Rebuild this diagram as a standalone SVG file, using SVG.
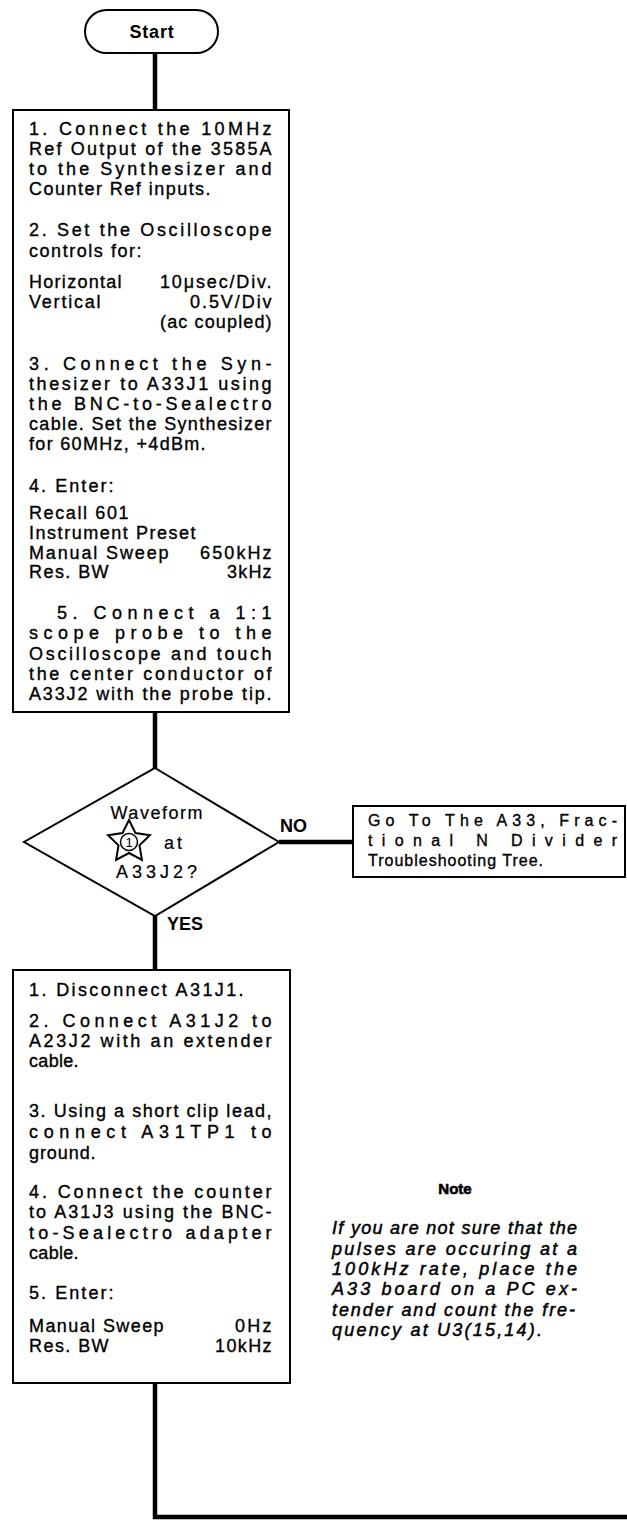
<svg xmlns="http://www.w3.org/2000/svg" width="627" height="1521" viewBox="0 0 627 1521">
<style>
.bg{fill:#fff}
.box{fill:#fff;stroke:#000;stroke-width:2}
.con{fill:none;stroke:#000;stroke-width:4.5;stroke-linecap:butt;stroke-linejoin:miter}
.t{font-family:"Liberation Sans",Arial,sans-serif;font-size:18px;fill:#000;stroke:#000;stroke-width:0.35;letter-spacing:1.4px}
.g{font-family:"Liberation Sans",Arial,sans-serif;font-size:16px;fill:#000;stroke:#000;stroke-width:0.35;letter-spacing:1px}
.d{font-family:"Liberation Sans",Arial,sans-serif;font-size:18px;fill:#000;stroke:#000;stroke-width:0.2;letter-spacing:1px}
.lbl{font-family:"Liberation Sans",Arial,sans-serif;font-size:18px;font-weight:bold;fill:#000}
.n{font-family:"Liberation Sans",Arial,sans-serif;font-size:18px;font-style:italic;fill:#000;stroke:#000;stroke-width:0.5}
.h{font-family:"Liberation Sans",Arial,sans-serif;font-size:15px;font-weight:bold;fill:#000;stroke:#000;stroke-width:0.6;text-anchor:middle}
</style>
<rect class="bg" x="0" y="0" width="627" height="1521"/>

<g id="connectors">
  <path class="con" d="M155 53 V110"/>
  <path class="con" d="M155 712 V768"/>
  <path class="con" d="M279 842 H353"/>
  <path class="con" d="M155 916 V970"/>
  <path class="con" d="M155 1383 V1517 H627"/>
</g>

<g id="start">
  <rect class="box" x="85" y="10" width="133" height="43" rx="21.5" ry="21.5"/>
  <text class="lbl" x="152" y="38" text-anchor="middle" style="letter-spacing:0.8px">Start</text>
</g>

<g id="step1">
  <rect class="box" x="13" y="110" width="276" height="602"/>
  <text class="t" x="29" y="135" textLength="244" lengthAdjust="spacing">1. Connect the 10MHz</text>
  <text class="t" x="29" y="155" textLength="244" lengthAdjust="spacing">Ref Output of the 3585A</text>
  <text class="t" x="29" y="175" textLength="244" lengthAdjust="spacing">to the Synthesizer and</text>
  <text class="t" x="29" y="195" textLength="183" lengthAdjust="spacing">Counter Ref inputs.</text>
  <text class="t" x="29" y="236" textLength="244" lengthAdjust="spacing">2. Set the Oscilloscope</text>
  <text class="t" x="29" y="257" textLength="114" lengthAdjust="spacing">controls for:</text>
  <text class="t" x="29" y="288" textLength="94" lengthAdjust="spacing">Horizontal</text>
  <text class="t" x="160" y="288" textLength="113" lengthAdjust="spacing">10μsec/Div.</text>
  <text class="t" x="29" y="308" textLength="73" lengthAdjust="spacing">Vertical</text>
  <text class="t" x="190" y="308" textLength="83" lengthAdjust="spacing">0.5V/Div</text>
  <text class="t" x="160" y="328" textLength="113" lengthAdjust="spacing">(ac coupled)</text>
  <text class="t" x="29" y="370" textLength="244" lengthAdjust="spacing">3. Connect the Syn-</text>
  <text class="t" x="29" y="390" textLength="244" lengthAdjust="spacing">thesizer to A33J1 using</text>
  <text class="t" x="29" y="410" textLength="244" lengthAdjust="spacing">the BNC-to-Sealectro</text>
  <text class="t" x="29" y="430" textLength="244" lengthAdjust="spacing">cable. Set the Synthesizer</text>
  <text class="t" x="29" y="450" textLength="178" lengthAdjust="spacing">for 60MHz, +4dBm.</text>
  <text class="t" x="29" y="492" textLength="86" lengthAdjust="spacing">4. Enter:</text>
  <text class="t" x="29" y="519" textLength="101" lengthAdjust="spacing">Recall 601</text>
  <text class="t" x="29" y="539" textLength="168" lengthAdjust="spacing">Instrument Preset</text>
  <text class="t" x="29" y="559" textLength="141" lengthAdjust="spacing">Manual Sweep</text>
  <text class="t" x="200" y="559" textLength="73" lengthAdjust="spacing">650kHz</text>
  <text class="t" x="29" y="578" textLength="81" lengthAdjust="spacing">Res. BW</text>
  <text class="t" x="227" y="578" textLength="46" lengthAdjust="spacing">3kHz</text>
  <text class="t" x="57" y="619" textLength="216" lengthAdjust="spacing">5. Connect a 1:1</text>
  <text class="t" x="29" y="639" textLength="244" lengthAdjust="spacing">scope probe to the</text>
  <text class="t" x="29" y="660" textLength="244" lengthAdjust="spacing">Oscilloscope and touch</text>
  <text class="t" x="29" y="680" textLength="244" lengthAdjust="spacing">the center conductor of</text>
  <text class="t" x="29" y="700" textLength="244" lengthAdjust="spacing">A33J2 with the probe tip.</text>
</g>

<g id="decision">
  <polygon class="box" points="155,768 279,842 155,916 24,842"/>
  <text class="d" x="157" y="819" text-anchor="middle" textLength="93" lengthAdjust="spacing">Waveform</text>
  <polygon fill="#fff" stroke="#000" stroke-width="2" points="129,820 135.5,833.1 149.9,835.2 139.5,845.4 141.9,859.8 129,853 116.1,859.8 118.5,845.4 108.1,835.2 122.5,833.1"/>
  <circle cx="129" cy="842" r="8.5" fill="#fff" stroke="#000" stroke-width="1.5"/>
  <text x="129" y="847" text-anchor="middle" font-family="Liberation Sans, Arial, sans-serif" font-size="13" fill="#000">1</text>
  <text class="d" x="164" y="849" textLength="19" lengthAdjust="spacing">at</text>
  <text class="d" x="157" y="878" text-anchor="middle" textLength="82" lengthAdjust="spacing">A33J2?</text>
  <text class="lbl" x="280" y="832">NO</text>
  <text class="lbl" x="167" y="930">YES</text>
</g>

<g id="goto">
  <rect class="box" x="353" y="806" width="272" height="71"/>
  <text class="g" x="368" y="826" textLength="250" lengthAdjust="spacing">Go To The A33, Frac-</text>
  <text class="g" x="368" y="846" textLength="250" lengthAdjust="spacing">tional N Divider</text>
  <text class="g" x="368" y="866">Troubleshooting Tree.</text>
</g>

<g id="step2">
  <rect class="box" x="13" y="970" width="277" height="413"/>
  <text class="t" x="29" y="996" textLength="216" lengthAdjust="spacing">1. Disconnect A31J1.</text>
  <text class="t" x="29" y="1027" textLength="244" lengthAdjust="spacing">2. Connect A31J2 to</text>
  <text class="t" x="29" y="1047" textLength="244" lengthAdjust="spacing">A23J2 with an extender</text>
  <text class="t" x="29" y="1067" textLength="51" lengthAdjust="spacing">cable.</text>
  <text class="t" x="29" y="1117" textLength="244" lengthAdjust="spacing">3. Using a short clip lead,</text>
  <text class="t" x="29" y="1138" textLength="244" lengthAdjust="spacing">connect A31TP1 to</text>
  <text class="t" x="29" y="1159" textLength="68" lengthAdjust="spacing">ground.</text>
  <text class="t" x="29" y="1198" textLength="244" lengthAdjust="spacing">4. Connect the counter</text>
  <text class="t" x="29" y="1218" textLength="244" lengthAdjust="spacing">to A31J3 using the BNC-</text>
  <text class="t" x="29" y="1239" textLength="244" lengthAdjust="spacing">to-Sealectro adapter</text>
  <text class="t" x="29" y="1259" textLength="51" lengthAdjust="spacing">cable.</text>
  <text class="t" x="29" y="1299" textLength="86" lengthAdjust="spacing">5. Enter:</text>
  <text class="t" x="29" y="1332" textLength="136" lengthAdjust="spacing">Manual Sweep</text>
  <text class="t" x="235" y="1332" textLength="38" lengthAdjust="spacing">0Hz</text>
  <text class="t" x="29" y="1352" textLength="81" lengthAdjust="spacing">Res. BW</text>
  <text class="t" x="215" y="1352" textLength="58" lengthAdjust="spacing">10kHz</text>
</g>

<g id="note">
  <text class="h" x="455" y="1194">Note</text>
  <text class="n" x="332" y="1234" textLength="245" lengthAdjust="spacing">If you are not sure that the</text>
  <text class="n" x="332" y="1255" textLength="245" lengthAdjust="spacing">pulses are occuring at a</text>
  <text class="n" x="332" y="1275" textLength="245" lengthAdjust="spacing">100kHz rate, place the</text>
  <text class="n" x="332" y="1295" textLength="245" lengthAdjust="spacing">A33 board on a PC ex-</text>
  <text class="n" x="332" y="1316" textLength="243" lengthAdjust="spacing">tender and count the fre-</text>
  <text class="n" x="332" y="1336" textLength="210" lengthAdjust="spacing">quency at U3(15,14).</text>
</g>
</svg>
